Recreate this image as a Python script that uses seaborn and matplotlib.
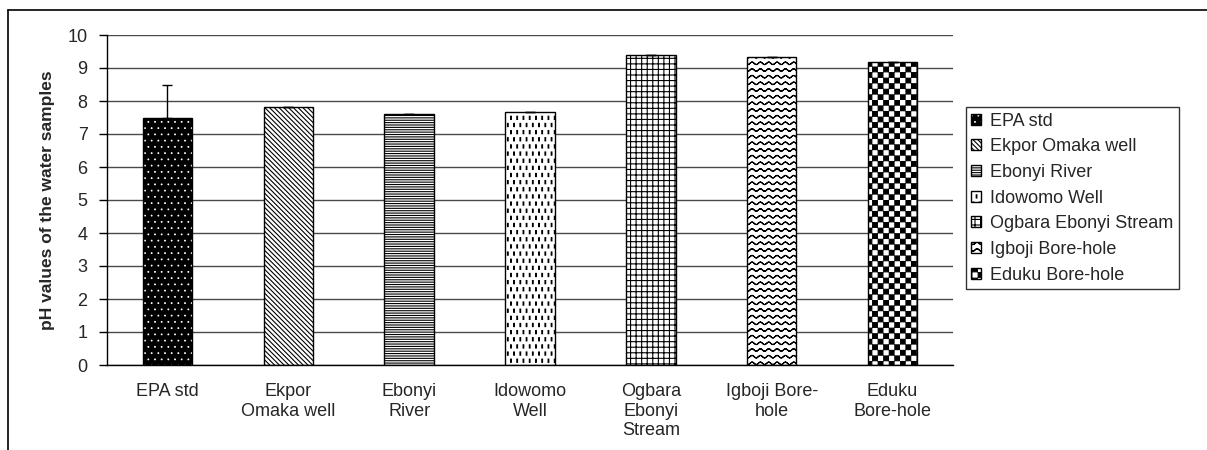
import numpy as np
import matplotlib
matplotlib.use("Agg")
import matplotlib.pyplot as plt
import matplotlib.hatch as mhatch
from matplotlib.path import Path
from matplotlib.lines import Line2D
import seaborn as sns

# ---------------- data ----------------
categories = ["EPA std", "Ekpor Omaka well", "Ebonyi River", "Idowomo Well",
              "Ogbara Ebonyi Stream", "Igboji Bore-hole", "Eduku Bore-hole"]
tick_labels = ["EPA std", "Ekpor\nOmaka well", "Ebonyi\nRiver", "Idowomo\nWell",
               "Ogbara\nEbonyi\nStream", "Igboji Bore-\nhole", "Eduku\nBore-hole"]
ph_values = [7.5, 7.82, 7.62, 7.68, 9.39, 9.33, 9.18]
err_upper = [1.0, 0, 0, 0, 0, 0, 0]
y_ticks = [0, 1, 2, 3, 4, 5, 6, 7, 8, 9, 10]
y_label = "pH values of the water samples"


# ---------------- custom hatch patterns ----------------
class _CustomHatch(mhatch.HatchPatternBase):
    symbol = ""

    def __init__(self, hatch, density):
        if self.symbol and self.symbol in hatch:
            v, c = self.build()
            self._v = np.asarray(v, float)
            self._c = np.asarray(c, dtype=Path.code_type)
            self.num_vertices = len(self._v)
        else:
            self.num_vertices = 0

    def set_vertices_and_codes(self, vertices, codes):
        vertices[:] = self._v
        codes[:] = self._c


def _poly(points):
    v = list(points) + [points[0]]
    c = [Path.MOVETO] + [Path.LINETO] * (len(points) - 1) + [Path.CLOSEPOLY]
    return v, c


class WaveHatch(_CustomHatch):
    symbol = "~"

    def build(self):
        rows, periods, amp = 15, 12, 0.012
        v, c = [], []
        xs = np.linspace(0, 1, periods * 12 + 1)
        for r in range(rows):
            y0 = (r + 0.5) / rows
            ys = y0 + amp * np.sin(2 * np.pi * periods * xs)
            for i in range(len(xs) - 1):
                v += [(xs[i], ys[i]), (xs[i + 1], ys[i + 1])]
                c += [Path.MOVETO, Path.LINETO]
        return v, c


class DashHatch(_CustomHatch):
    symbol = ":"

    def build(self):
        cols, rows, w, h = 16, 14, 0.007, 0.032
        v, c = [], []
        for r in range(rows):
            yc = (r + 0.5) / rows
            for k in range(cols):
                xc = (k + 0.25 + 0.5 * (r % 2)) / cols
                pv, pc = _poly([(xc - w / 2, yc - h / 2), (xc + w / 2, yc - h / 2),
                                (xc + w / 2, yc + h / 2), (xc - w / 2, yc + h / 2)])
                v += pv
                c += pc
        return v, c


class CheckerHatch(_CustomHatch):
    symbol = "#"

    def build(self):
        n = 18
        s = 1.0 / n
        d = 0.004
        v, c = [], []
        for i in range(n):
            for j in range(n):
                if (i + j) % 2 == 0:
                    x0, y0 = i * s + d, j * s + d
                    pv, pc = _poly([(x0, y0), (x0 + s - 2 * d, y0),
                                    (x0 + s - 2 * d, y0 + s - 2 * d), (x0, y0 + s - 2 * d)])
                    v += pv
                    c += pc
        return v, c


class DotHatch(_CustomHatch):
    symbol = ","

    def build(self):
        cols, rows, rad = 15, 16, 0.004
        v, c = [], []
        ang = np.linspace(0, 2 * np.pi, 9)[:-1]
        for r in range(rows):
            yc = (r + 0.5) / rows
            for k in range(cols):
                xc = (k + 0.25 + 0.5 * (r % 2)) / cols
                pv, pc = _poly([(xc + rad * np.cos(a), yc + rad * np.sin(a)) for a in ang])
                v += pv
                c += pc
        return v, c


if hasattr(mhatch, "_hatch_types"):
    mhatch._hatch_types.extend([WaveHatch, DashHatch, CheckerHatch, DotHatch])

# ---------------- style ----------------
sns.set_style("white")
plt.rcParams["font.family"] = ["Liberation Sans", "DejaVu Sans"]
plt.rcParams["hatch.linewidth"] = 0.8
FS = 13

fig = plt.figure(figsize=(12.07, 4.5), dpi=100)
ax = fig.add_axes([107 / 1207, 85 / 450, 846 / 1207, 330 / 450])

sns.barplot(x=categories, y=ph_values, color="white", width=0.41, errorbar=None,
            edgecolor="black", linewidth=1.0, saturation=1, ax=ax)

faces = ["black", "white", "white", "white", "white", "white", "white"]
hatches = [",", "\\" * 7, "-" * 7, ":", "+++", "~", "#"]
bars = list(ax.patches)[:len(categories)]
for p, fc, h in zip(bars, faces, hatches):
    p.set_facecolor(fc)
    p.set_edgecolor("black")
    p.set_linewidth(1.0)
    p.set_hatch("/")
    p._hatch = h
    if fc == "black":
        if hasattr(p, "set_hatchcolor"):
            p.set_hatchcolor("white")
        else:
            p._hatch_color = (1.0, 1.0, 1.0, 1.0)

# error bar (upper only) for EPA std
ax.errorbar(range(len(categories)), ph_values,
            yerr=[[0] * len(err_upper), err_upper],
            fmt="none", ecolor="black", elinewidth=1.0, capsize=3.5, capthick=1.0, zorder=5)

# axes
ax.set_ylim(0, 10)
ax.set_yticks(y_ticks)
ax.set_yticklabels([str(t) for t in y_ticks], fontsize=FS)
ax.set_xlim(-0.5, len(categories) - 0.5)
ax.set_xticks(range(len(categories)))
ax.set_xticklabels(tick_labels, fontsize=FS, linespacing=1.2)
ax.set_xticks(np.arange(-0.5, len(categories), 1.0), minor=True)
ax.tick_params(axis="x", which="major", length=0, pad=13)
ax.tick_params(axis="x", which="minor", length=6, width=1, color="black", direction="out")
ax.tick_params(axis="y", length=6, width=1, color="black", direction="out", pad=8, left=True)
ax.set_xlabel("")
ax.set_ylabel(y_label, fontsize=12.5, fontweight="bold", labelpad=9)

ax.yaxis.grid(True, color="#4a4a4a", linewidth=1.0)
ax.xaxis.grid(False)
ax.set_axisbelow(True)
for s in ["top", "right"]:
    ax.spines[s].set_visible(False)
for s in ["left", "bottom"]:
    ax.spines[s].set_color("black")
    ax.spines[s].set_linewidth(1.0)

# legend
leg = fig.legend(bars, categories, loc="lower left",
                 bbox_to_anchor=(966 / 1207, 1 - 289 / 450),
                 frameon=True, fancybox=False, edgecolor="black", fontsize=FS,
                 handlelength=0.55, handleheight=0.55, handletextpad=0.5,
                 labelspacing=0.48, borderpad=0.3, borderaxespad=0)
leg.get_frame().set_linewidth(1.0)

# outer frame lines (left and top)
fig.add_artist(Line2D([8 / 1207, 8 / 1207], [0, 1 - 10 / 450], transform=fig.transFigure,
                      color="black", linewidth=1.2))
fig.add_artist(Line2D([8 / 1207, 1], [1 - 10 / 450, 1 - 10 / 450], transform=fig.transFigure,
                      color="black", linewidth=1.2))

fig.savefig("out.png", dpi=100)
